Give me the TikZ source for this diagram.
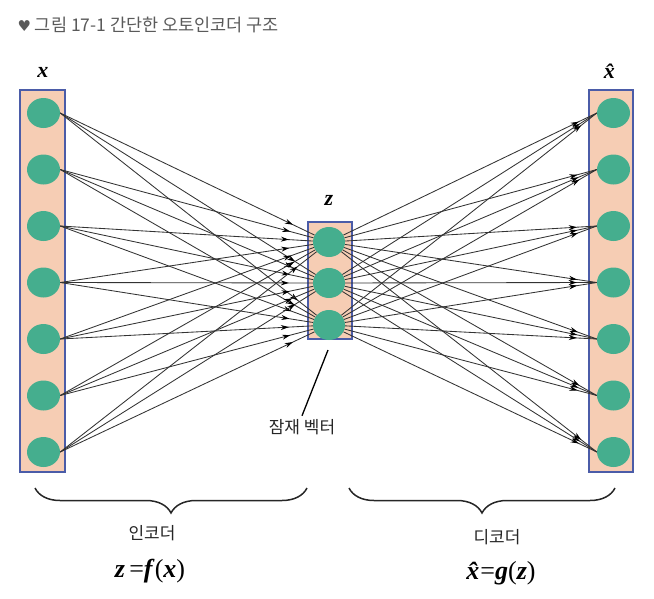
\documentclass[tikz,border=0pt]{standalone}
\usepackage{fontspec}
\setmainfont{Liberation Serif}
\newfontfamily\kofont{Noto Sans CJK KR}
\newfontfamily\symfont{DejaVu Sans}
\usetikzlibrary{shapes.geometric,arrows.meta,decorations.markings,decorations.pathreplacing}

\definecolor{Layer}{HTML}{F6CDB4}
\definecolor{Frame}{HTML}{4B5CA8}
\definecolor{Unit}{HTML}{45AE8E}
\definecolor{Caption}{HTML}{5A5A5A}

\newcommand{\vecsym}[1]{\textbf{\textit{#1}}}

\begin{document}
\begin{tikzpicture}[x=1pt, y=-1pt,
  unit/.style={ellipse, fill=Unit, minimum width=33pt, minimum height=30pt, inner sep=0pt},
  layer/.style={draw=Frame, line width=1.2pt, fill=Layer},
  enc/.style={line width=0.85pt, draw=black!80, postaction={decorate},
    decoration={markings, mark=at position -24pt with {\arrow[black]{Stealth[length=8pt,width=5pt]}}}},
  dec/.style={line width=0.85pt, draw=black!80, postaction={decorate},
    decoration={markings, mark=at position -20pt with {\arrow[black]{Stealth[length=8pt,width=5pt]}}}},
  curly/.style={decorate, decoration={brace, amplitude=25pt}, line width=1.5pt, draw=black!85},
  kolabel/.style={font=\kofont\fontsize{17}{20}\selectfont, text=black!85},
  formula/.style={font=\fontsize{26}{30}\selectfont},
  vlabel/.style={font=\fontsize{22}{26}\selectfont}]

 \useasboundingbox (0,0) rectangle (654,598);

 %%%%%%%%%% Titre %%%%%%%%%%
 \node[anchor=west, text=Caption, font=\kofont\fontsize{17.5}{20}\selectfont] (title) at (14,25)
   {{\symfont\fontsize{15}{16}\selectfont ♥}\ 그림 17-1 간단한 오토인코더 구조};

 %%%%%%%%%% Couches %%%%%%%%%%
 \draw[layer] (20,90) rectangle (65,472);
 \draw[layer] (308,222) rectangle (352,339);
 \draw[layer] (589,90) rectangle (633,472);

 \foreach \i in {1,...,7} {
   \pgfmathsetmacro\yy{113+56.5*(\i-1)}
   \node[unit] (x\i) at (43.5,\yy) {};
   \node[unit] (h\i) at (613.5,\yy) {};
 }
 \foreach \j/\yy in {1/242,2/283,3/325}
   \node[unit, minimum width=32pt] (z\j) at (329,\yy) {};

 % Liens
 \foreach \i in {1,...,7}
   \foreach \j in {1,2,3} {
     \draw[enc] (x\i.east) -- (z\j);
     \draw[dec] (z\j) -- (h\i.west);
   }

 %%%%%%%%%% Etiquettes %%%%%%%%%%
 \node[vlabel] (xin) at (43,72) {\vecsym{x}};
 \node[vlabel] (xout) at (612,71) {\vecsym{x̂}};
 \node[vlabel] (zmid) at (329,200) {\vecsym{z}};

 \node[kolabel] (latent) at (302,427) {잠재 벡터};
 \coordinate (latend) at (328,350);
 \draw[line width=1.3pt] (latent.north) -- (latend);

 %%%%%%%%%% Accolades %%%%%%%%%%
 \draw[curly] (307,488) -- (35,488);
 \draw[curly] (615,488) -- (349,488);

 \node[kolabel] (encoder) at (152,533) {인코더};
 \node[formula] (fenc) at (150,571) {\vecsym{z}\,=\vecsym{f}(\vecsym{x})};
 \node[kolabel] (decoder) at (497,537) {디코더};
 \node[formula] (fdec) at (501,573) {\vecsym{x̂}\kern-5pt=\vecsym{g}(\vecsym{z})};

\end{tikzpicture}
\end{document}
